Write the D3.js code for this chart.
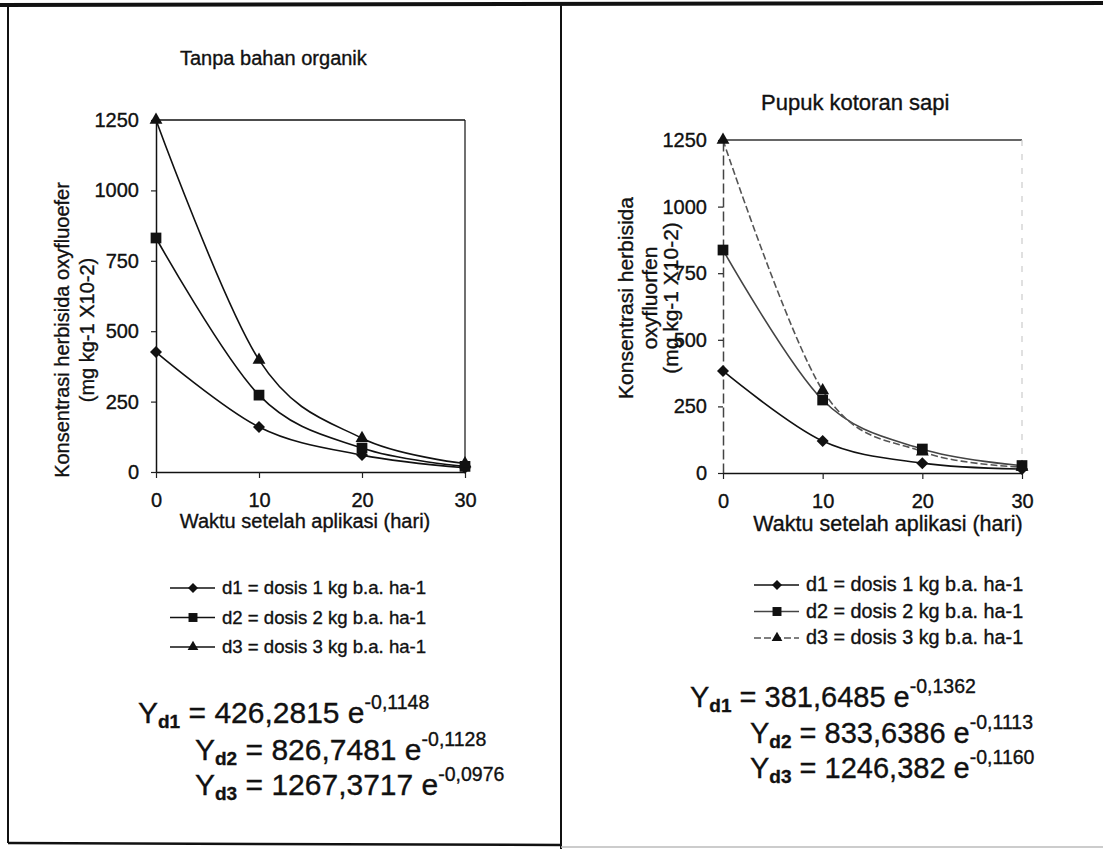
<!DOCTYPE html>
<html lang="id">
  <head>
    <meta charset="UTF-8" />
    <title>Konsentrasi herbisida oxyfluorfen</title>
    <script src="https://cdn.jsdelivr.net/npm/d3@7"></script>
    <style>
      body {
        margin: 0;
        background: #ffffff;
      }
      text {
        font-family: "Liberation Sans", Arial, Helvetica, sans-serif;
        fill: #111;
        stroke: #111;
        stroke-width: 0.35px;
      }
    </style>
  </head>
  <body>
    <div id="main-div"></div>
    <script>
      // data
      const days = [0, 10, 20, 30];
      const yTicks = [0, 250, 500, 750, 1000, 1250];
      const doseLabels = [
        "d1 = dosis 1 kg b.a. ha-1",
        "d2 = dosis 2 kg b.a. ha-1",
        "d3 = dosis 3 kg b.a. ha-1",
      ];

      // Tanpa bahan organik
      const tanpaD1 = [426, 160, 60, 15];
      const tanpaD2 = [831, 273, 85, 20];
      const tanpaD3 = [1250, 398, 120, 30];
      const tanpaCoef = ["426,2815", "826,7481", "1267,3717"];
      const tanpaExp = ["-0,1148", "-0,1128", "-0,0976"];

      // Pupuk kotoran sapi
      const sapiD1 = [383, 120, 37, 15];
      const sapiD2 = [837, 274, 90, 28];
      const sapiD3 = [1250, 310, 80, 22];
      const sapiCoef = ["381,6485", "833,6386", "1246,382"];
      const sapiExp = ["-0,1362", "-0,1113", "-0,1160"];

      const W = 1103;
      const H = 849;

      let svg = d3
        .select("#main-div")
        .append("svg")
        .attr("width", W)
        .attr("height", H)
        .style("display", "block")
        .style("background-color", "#ffffff");

      // page frame of the scan
      svg.append("path").attr("d", "M0,5 L1103,3").attr("stroke", "#111").attr("stroke-width", 4);
      svg.append("path").attr("d", "M8,5 L8,843").attr("stroke", "#111").attr("stroke-width", 2);
      svg.append("path").attr("d", "M561,3 L561,849").attr("stroke", "#111").attr("stroke-width", 2);
      svg.append("path").attr("d", "M8,843 L561,845").attr("stroke", "#111").attr("stroke-width", 2.5);
      svg.append("path").attr("d", "M561,847 L1103,847").attr("stroke", "#bbb").attr("stroke-width", 1.5);

      // marker shapes
      const shapes = ["diamond", "square", "triangle"];
      function marker(sel, shape, s) {
        if (shape === "diamond") {
          sel.attr("d", d3.symbol(d3.symbolSquare, s * s * 0.5)).attr("transform", (d) => d.t + " rotate(45)");
        } else if (shape === "square") {
          sel.attr("d", d3.symbol(d3.symbolSquare, s * s * 0.8)).attr("transform", (d) => d.t);
        } else {
          sel.attr("d", d3.symbol(d3.symbolTriangle, s * s * 0.5)).attr("transform", (d) => d.t);
        }
      }

      function drawPanel(p) {
        let x = d3.scaleLinear().domain([0, 30]).range([p.x0, p.x1]);
        let y = d3.scaleLinear().domain([0, 1250]).range([p.y0, p.y1]);

        // top and right edges of plot area
        svg
          .append("line")
          .attr("x1", x(0))
          .attr("x2", x(30))
          .attr("y1", y(1250))
          .attr("y2", y(1250))
          .attr("stroke", p.topColor)
          .attr("stroke-width", 1.5);
        svg
          .append("line")
          .attr("x1", x(30))
          .attr("x2", x(30))
          .attr("y1", y(1250))
          .attr("y2", y(0))
          .attr("stroke", p.rightColor)
          .attr("stroke-width", 1.2)
          .attr("stroke-dasharray", p.rightDash);

        // y axis
        let gy = svg
          .append("g")
          .attr("transform", "translate(" + x(0) + ",0)")
          .call(
            d3
              .axisLeft(y)
              .tickValues(yTicks)
              .tickFormat(d3.format("d"))
              .tickSize(5)
              .tickSizeOuter(0)
              .tickPadding(p.yPad)
          );
        gy.select(".domain").attr("stroke", p.yAxisColor).attr("stroke-width", 1.5).attr("stroke-dasharray", p.yAxisDash);
        gy.selectAll(".tick line").attr("stroke", "#222").attr("stroke-width", 1.2);
        gy.selectAll("text").attr("font-size", p.fs).attr("font-family", null).attr("fill", "#111");

        // x axis
        let gx = svg
          .append("g")
          .attr("transform", "translate(0," + y(0) + ")")
          .call(d3.axisBottom(x).tickValues(days).tickSize(6).tickSizeOuter(0).tickPadding(15));
        gx.select(".domain").attr("stroke", "#111").attr("stroke-width", 1.5);
        gx.selectAll(".tick line").attr("stroke", "#222").attr("stroke-width", 1.2);
        gx.selectAll("text").attr("font-size", p.fs).attr("font-family", null).attr("fill", "#111");

        // titles
        svg.append("text").attr("x", p.titleX).attr("y", p.titleY).attr("font-size", p.titleFs).text(p.title);
        svg
          .append("text")
          .attr("x", p.xTitleX)
          .attr("y", p.xTitleY)
          .attr("text-anchor", "middle")
          .attr("font-size", p.xTitleFs)
          .text("Waktu setelah aplikasi (hari)");
        p.yTitle.forEach((t, i) => {
          svg
            .append("text")
            .attr("transform", "translate(" + p.yTitleX[i] + "," + p.yTitleY + ") rotate(-90)")
            .attr("text-anchor", "middle")
            .attr("font-size", p.yTitleFs)
            .text(t);
        });

        // series lines (smoothed like the spreadsheet)
        let line = d3
          .line()
          .x((d, i) => x(days[i]))
          .y((d) => y(d))
          .curve(d3.curveCardinal.tension(0));

        p.series.forEach((vals, k) => {
          svg
            .append("path")
            .datum(vals)
            .attr("d", line)
            .attr("fill", "none")
            .attr("stroke", p.lineColors[k])
            .attr("stroke-width", 1.6)
            .attr("stroke-dasharray", p.lineDash[k]);
        });
        p.series.forEach((vals, k) => {
          svg
            .selectAll(null)
            .data(vals.map((v, i) => ({ t: "translate(" + x(days[i]) + "," + y(v) + ")" })))
            .enter()
            .append("path")
            .attr("fill", "#111")
            .call(marker, shapes[k], p.markerSize);
        });

        // legend
        doseLabels.forEach((lab, k) => {
          let ly = p.legY + k * p.legGap;
          svg
            .append("line")
            .attr("x1", p.legX)
            .attr("x2", p.legX + 45)
            .attr("y1", ly)
            .attr("y2", ly)
            .attr("stroke", p.lineColors[k])
            .attr("stroke-width", 1.6)
            .attr("stroke-dasharray", p.lineDash[k]);
          svg
            .append("path")
            .datum({ t: "translate(" + (p.legX + 23) + "," + ly + ")" })
            .attr("fill", "#111")
            .call(marker, shapes[k], p.markerSize - 2);
          svg
            .append("text")
            .attr("x", p.legX + 52)
            .attr("y", ly + 6)
            .attr("font-size", p.legFs)
            .text(lab);
        });

        // fitted equations
        p.coef.forEach((c, k) => {
          let t = svg
            .append("text")
            .attr("x", p.eqX[k])
            .attr("y", p.eqY[k])
            .attr("font-size", p.eqFs);
          t.append("tspan").text("Y");
          t.append("tspan").attr("font-size", 19).attr("font-weight", "bold").attr("dy", 5).text("d" + (k + 1));
          t.append("tspan").attr("dy", -5).text(" = " + c + " e");
          t.append("tspan").attr("font-size", 19.5).attr("dy", -14).text(p.expo[k]);
        });
      }

      drawPanel({
        x0: 156,
        x1: 465,
        y0: 472,
        y1: 120,
        fs: 20,
        yPad: 12,
        topColor: "#111",
        rightColor: "#111",
        rightDash: null,
        yAxisColor: "#111",
        yAxisDash: null,
        title: "Tanpa bahan organik",
        titleFs: 20,
        titleX: 180,
        titleY: 65,
        xTitleX: 305,
        xTitleY: 528,
        xTitleFs: 20,
        yTitle: ["Konsentrasi herbisida  oxyfluoefer", "(mg kg-1 X10-2)"],
        yTitleX: [69, 94],
        yTitleY: 330,
        yTitleFs: 20,
        series: [tanpaD1, tanpaD2, tanpaD3],
        lineColors: ["#111", "#111", "#111"],
        lineDash: [null, null, null],
        markerSize: 12,
        legX: 170,
        legY: 588,
        legGap: 29.5,
        legFs: 18.6,
        coef: tanpaCoef,
        expo: tanpaExp,
        eqX: [138, 195, 195],
        eqY: [723, 760, 795],
        eqFs: 30,
      });

      drawPanel({
        x0: 723,
        x1: 1022,
        y0: 473,
        y1: 140,
        fs: 20,
        yPad: 11,
        topColor: "#333",
        rightColor: "#ccc",
        rightDash: "6,8",
        yAxisColor: "#444",
        yAxisDash: "10,4",
        title: "Pupuk kotoran sapi",
        titleFs: 22,
        titleX: 761,
        titleY: 110,
        xTitleX: 888,
        xTitleY: 531,
        xTitleFs: 21.5,
        yTitle: ["Konsentrasi herbisida", "oxyfluorfen", "(mg kg-1 X10-2)"],
        yTitleX: [633, 657, 678],
        yTitleY: 298,
        yTitleFs: 21,
        series: [sapiD1, sapiD2, sapiD3],
        lineColors: ["#111", "#444", "#555"],
        lineDash: [null, null, "7,3"],
        markerSize: 12,
        legX: 754,
        legY: 585,
        legGap: 26.5,
        legFs: 19.8,
        coef: sapiCoef,
        expo: sapiExp,
        eqX: [690, 750, 750],
        eqY: [707, 743, 778],
        eqFs: 29,
      });
    </script>
  </body>
</html>
